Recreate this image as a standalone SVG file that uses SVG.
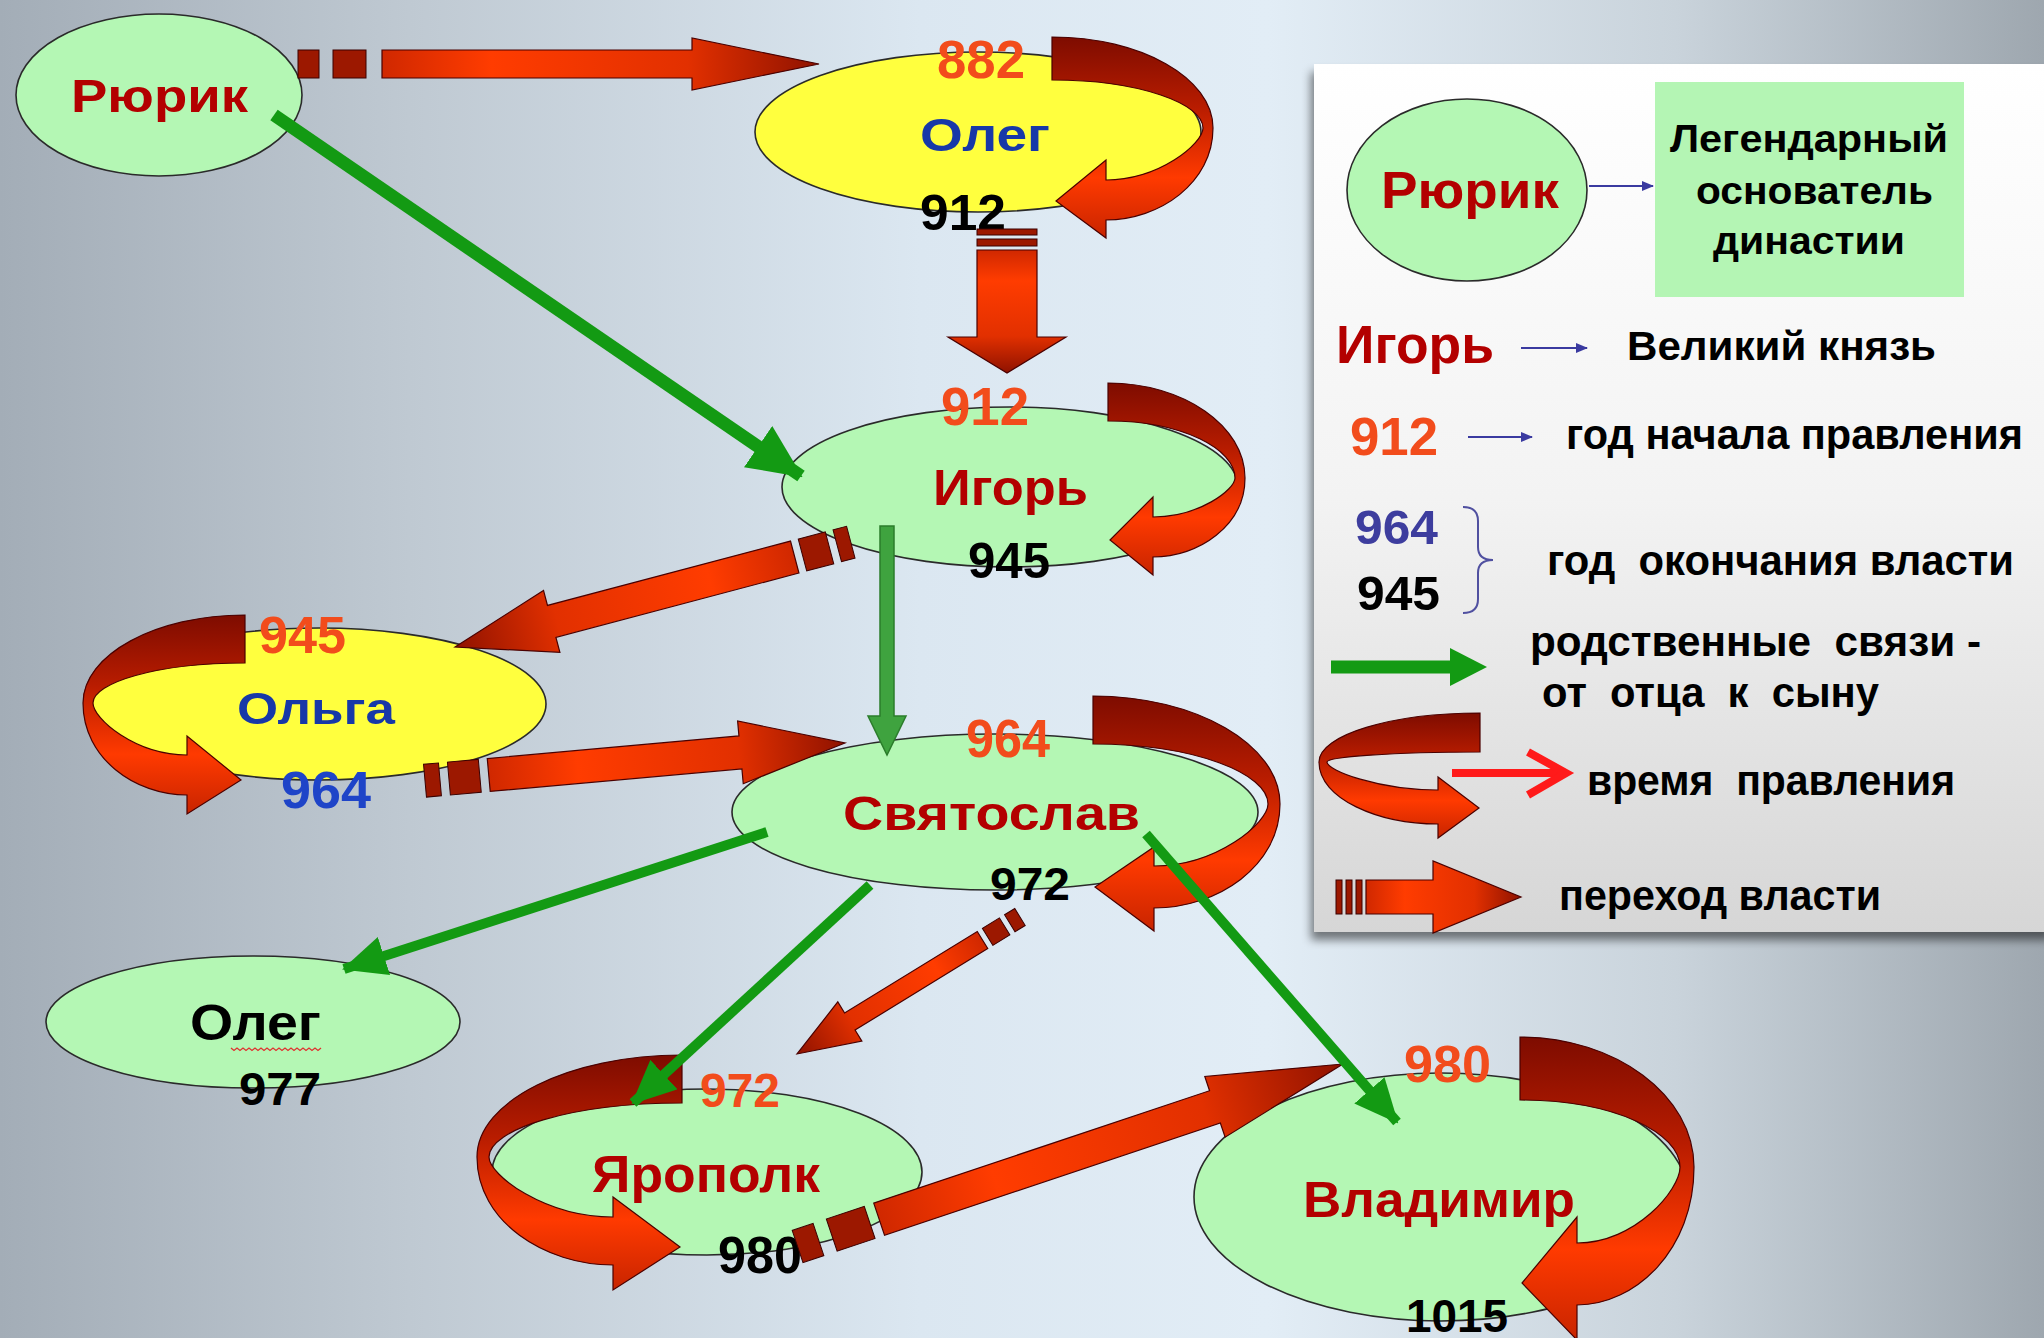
<svg xmlns="http://www.w3.org/2000/svg" width="2044" height="1338" viewBox="0 0 2044 1338">
<defs>
<style>
.t{font-family:"Liberation Sans",Arial,sans-serif;font-weight:bold}
.name{fill:#b30000}
.blue{fill:#1738a8}
.yr{fill:#f24c1c}
.blk{fill:#000}
.eg{fill:#b4f7b4;stroke:#2a2a2a;stroke-width:1.6}
.ey{fill:#ffff3e;stroke:#2a2a2a;stroke-width:1.6}
.band{fill:url(#band);stroke:#4a0000;stroke-width:1.2}
.block{fill:url(#blk);stroke:#4a0000;stroke-width:1.2}
.stripe{fill:#9c1800;stroke:#3a0000;stroke-width:1}
.gl{stroke:#139a13;fill:none}
.lg{fill:#000}
.bl{stroke:#3a3aa0;stroke-width:2;fill:none}
</style>
<linearGradient id="bg" x1="0" y1="0" x2="1" y2="0">
<stop offset="0" stop-color="#a3adb7"/>
<stop offset="0.2" stop-color="#bfc9d2"/>
<stop offset="0.45" stop-color="#dbe7f1"/>
<stop offset="0.62" stop-color="#e2edf6"/>
<stop offset="0.82" stop-color="#c9d3db"/>
<stop offset="1" stop-color="#9ea7af"/>
</linearGradient>
<linearGradient id="band" x1="0" y1="0" x2="0" y2="1">
<stop offset="0" stop-color="#7e0c00"/>
<stop offset="0.35" stop-color="#b81c00"/>
<stop offset="0.7" stop-color="#ff3a00"/>
<stop offset="1" stop-color="#c82400"/>
</linearGradient>
<linearGradient id="blk" x1="0" y1="0" x2="1" y2="0">
<stop offset="0" stop-color="#d02800"/>
<stop offset="0.25" stop-color="#ff3c00"/>
<stop offset="0.7" stop-color="#e23000"/>
<stop offset="1" stop-color="#8f1200"/>
</linearGradient>
<linearGradient id="panel" x1="0" y1="0" x2="0" y2="1">
<stop offset="0" stop-color="#ffffff"/>
<stop offset="0.5" stop-color="#f3f3f3"/>
<stop offset="1" stop-color="#d6d6d6"/>
</linearGradient>
<filter id="shadow" x="-5%" y="-5%" width="110%" height="110%">
<feGaussianBlur in="SourceAlpha" stdDeviation="5"/>
<feOffset dx="-3" dy="8"/>
<feComponentTransfer><feFuncA type="linear" slope="0.5"/></feComponentTransfer>
<feMerge><feMergeNode/><feMergeNode in="SourceGraphic"/></feMerge>
</filter>
<marker id="gL" markerUnits="userSpaceOnUse" markerWidth="54" markerHeight="50" refX="52" refY="25" orient="auto">
<path d="M0,0 L54,25 L0,50 Z" fill="#139a13"/>
</marker>
<marker id="gS" markerUnits="userSpaceOnUse" markerWidth="44" markerHeight="40" refX="42" refY="20" orient="auto">
<path d="M0,0 L44,20 L0,40 Z" fill="#139a13"/>
</marker>
<marker id="bA" markerUnits="userSpaceOnUse" markerWidth="12" markerHeight="10" refX="11" refY="5" orient="auto">
<path d="M0,0 L12,5 L0,10 Z" fill="#3a3aa0"/>
</marker>
</defs>

<rect width="2044" height="1338" fill="url(#bg)"/>

<g id="legend">
<rect x="1314" y="64" width="740" height="868" fill="url(#panel)" filter="url(#shadow)"/>
<ellipse class="eg" cx="1467" cy="190" rx="120" ry="91"/>
<text class="t name" x="1381" y="208" font-size="52" textLength="178" lengthAdjust="spacingAndGlyphs">Рюрик</text>
<line class="bl" x1="1589" y1="186" x2="1653" y2="186" marker-end="url(#bA)"/>
<rect x="1655" y="82" width="309" height="215" fill="#b4f5b4"/>
<text class="t lg" x="1670" y="152" font-size="38" textLength="278" lengthAdjust="spacingAndGlyphs">Легендарный</text>
<text class="t lg" x="1696" y="204" font-size="38" textLength="237" lengthAdjust="spacingAndGlyphs">основатель</text>
<text class="t lg" x="1713" y="254" font-size="38" textLength="192" lengthAdjust="spacingAndGlyphs">династии</text>
<text class="t name" x="1336" y="363" font-size="53" textLength="158" lengthAdjust="spacingAndGlyphs">Игорь</text>
<line class="bl" x1="1521" y1="348" x2="1587" y2="348" marker-end="url(#bA)"/>
<text class="t lg" x="1627" y="360" font-size="40" textLength="309" lengthAdjust="spacingAndGlyphs">Великий князь</text>
<text class="t yr" x="1350" y="455" font-size="53" textLength="88" lengthAdjust="spacingAndGlyphs">912</text>
<line class="bl" x1="1468" y1="437" x2="1532" y2="437" marker-end="url(#bA)"/>
<text class="t lg" x="1566" y="449" font-size="42" textLength="457" lengthAdjust="spacingAndGlyphs">год начала правления</text>
<text class="t" fill="#3d3d9e" x="1355" y="544" font-size="49" textLength="83" lengthAdjust="spacingAndGlyphs">964</text>
<text class="t lg" x="1357" y="610" font-size="49" textLength="83" lengthAdjust="spacingAndGlyphs">945</text>
<path d="M1463,507 Q1478,507 1478,521 L1478,547 Q1478,560 1493,560 Q1478,560 1478,573 L1478,599 Q1478,613 1463,613" stroke="#5050a0" stroke-width="2" fill="none"/>
<text class="t lg" x="1547" y="575" font-size="42" textLength="467" lengthAdjust="spacingAndGlyphs" xml:space="preserve">год  окончания власти</text>
<line x1="1331" y1="667" x2="1452" y2="667" stroke="#139a13" stroke-width="13"/>
<path d="M1450,648 L1487,667 L1450,686 Z" fill="#139a13"/>
<text class="t lg" x="1530" y="656" font-size="42" textLength="451" lengthAdjust="spacingAndGlyphs" xml:space="preserve">родственные  связи -</text>
<text class="t lg" x="1542" y="707" font-size="42" textLength="337" lengthAdjust="spacingAndGlyphs" xml:space="preserve">от  отца  к  сыну</text>
<path class="band" d="M1480,713 C1391.5,713 1319,735 1319,762 C1319,799 1378.5,824 1438,824 L1438,838 L1479,808 L1438,777 L1438,790 C1378.5,790 1327,770.4 1327,762 C1327,757 1391.5,752 1480,752 Z"/>
<line x1="1452" y1="773" x2="1562" y2="773" stroke="#ff1a1a" stroke-width="8"/>
<path d="M1528,752 L1566,773 L1528,795" stroke="#ff1a1a" stroke-width="8" fill="none"/>
<text class="t lg" x="1587" y="795" font-size="42" textLength="368" lengthAdjust="spacingAndGlyphs" xml:space="preserve">время  правления</text>
<g transform="translate(1336,897)">
<rect class="stripe" x="0" y="-17" width="6" height="34"/>
<rect class="stripe" x="10" y="-17" width="6" height="34"/>
<rect class="stripe" x="20" y="-17" width="6" height="34"/>
<path class="block" d="M30,-17 L97,-17 L97,-36 L185,0 L97,36 L97,17 L30,17 Z"/>
</g>
<text class="t lg" x="1559" y="910" font-size="42" textLength="322" lengthAdjust="spacingAndGlyphs">переход власти</text>
</g>

<g id="node-rurik">
<ellipse class="eg" cx="159" cy="95" rx="143" ry="81"/>
<text class="t name" x="71" y="112" font-size="46" textLength="177" lengthAdjust="spacingAndGlyphs">Рюрик</text>
</g>

<g id="node-oleg">
<ellipse class="ey" cx="978" cy="132" rx="223" ry="80"/>
<path class="band" d="M1052,37 C1140.6,37 1213,78 1213,128 C1213,183 1159.5,220 1106,220 L1106,238 L1056,201 L1106,160 L1106,180 C1159.5,180 1203,143.6 1203,128 C1203,104 1140.6,80 1052,80 Z"/>
<text class="t yr" x="937" y="78" font-size="53" textLength="88" lengthAdjust="spacingAndGlyphs">882</text>
<text class="t blue" x="920" y="151" font-size="47" textLength="130" lengthAdjust="spacingAndGlyphs">Олег</text>
<text class="t blk" x="920" y="230" font-size="50" textLength="86" lengthAdjust="spacingAndGlyphs">912</text>
</g>

<g id="node-igor">
<ellipse class="eg" cx="1010" cy="487" rx="228" ry="80"/>
<path class="band" d="M1108,383 C1183.4,383 1245,425.8 1245,478 C1245,525.4 1199,557 1153,557 L1153,575 L1110,540 L1153,497 L1153,517 C1199,517 1235,489.7 1235,478 C1235,449.5 1183.4,421 1108,421 Z"/>
<text class="t yr" x="941" y="425" font-size="53" textLength="88" lengthAdjust="spacingAndGlyphs">912</text>
<text class="t name" x="933" y="505" font-size="50" textLength="155" lengthAdjust="spacingAndGlyphs">Игорь</text>
<text class="t blk" x="968" y="578" font-size="50" textLength="82" lengthAdjust="spacingAndGlyphs">945</text>
</g>

<g id="node-olga">
<ellipse class="ey" cx="319" cy="704" rx="227" ry="76"/>
<path class="band" d="M245,615 C155.9,615 83,654.6 83,703 C83,758.2 135,795 187,795 L187,814 L241,780 L187,736 L187,755 C135,755 93,718.6 93,703 C93,683 155.9,663 245,663 Z"/>
<text class="t yr" x="259" y="653" font-size="52" textLength="87" lengthAdjust="spacingAndGlyphs">945</text>
<text class="t blue" x="237" y="724" font-size="45" textLength="158" lengthAdjust="spacingAndGlyphs">Ольга</text>
<text class="t" fill="#1e44c8" x="281" y="808" font-size="52" textLength="90" lengthAdjust="spacingAndGlyphs">964</text>
</g>

<g id="node-svyatoslav">
<ellipse class="eg" cx="995" cy="812" rx="263" ry="78"/>
<path class="band" d="M1093,696 C1195.9,696 1280,744.6 1280,804 C1280,866.4 1217,908 1154,908 L1154,931 L1095,887 L1154,847 L1154,866 C1217,866 1268,822.6 1268,804 C1268,774 1195.9,744 1093,744 Z"/>
<text class="t yr" x="966" y="757" font-size="54" textLength="84" lengthAdjust="spacingAndGlyphs">964</text>
<text class="t name" x="843" y="830" font-size="48" textLength="297" lengthAdjust="spacingAndGlyphs">Святослав</text>
<text class="t blk" x="990" y="900" font-size="46" textLength="80" lengthAdjust="spacingAndGlyphs">972</text>
</g>

<g id="node-oleg2">
<ellipse class="eg" cx="253" cy="1022" rx="207" ry="66"/>
<text class="t blk" x="190" y="1040" font-size="50" textLength="131" lengthAdjust="spacingAndGlyphs">Олег</text>
<path d="M231,1048 l3,2.5 l3,-2.5 l3,2.5 l3,-2.5 l3,2.5 l3,-2.5 l3,2.5 l3,-2.5 l3,2.5 l3,-2.5 l3,2.5 l3,-2.5 l3,2.5 l3,-2.5 l3,2.5 l3,-2.5 l3,2.5 l3,-2.5 l3,2.5 l3,-2.5 l3,2.5 l3,-2.5 l3,2.5 l3,-2.5 l3,2.5 l3,-2.5 l3,2.5 l3,-2.5 l3,2.5 l3,-2.5" stroke="#e03030" stroke-width="1.3" fill="none"/>
<text class="t blk" x="239" y="1105" font-size="46" textLength="82" lengthAdjust="spacingAndGlyphs">977</text>
</g>

<g id="node-yaropolk">
<ellipse class="eg" cx="707" cy="1172" rx="215" ry="83"/>
<path class="band" d="M682,1055 C569.25,1055 477,1100.9 477,1157 C477,1221.8 545,1265 613,1265 L613,1290 L680,1247 L613,1197 L613,1217 C545,1217 489,1175 489,1157 C489,1130 569.25,1103 682,1103 Z"/>
<text class="t yr" x="700" y="1107" font-size="48" textLength="80" lengthAdjust="spacingAndGlyphs">972</text>
<text class="t name" x="592" y="1192" font-size="52" textLength="228" lengthAdjust="spacingAndGlyphs">Ярополк</text>
<text class="t blk" x="718" y="1273" font-size="52" textLength="84" lengthAdjust="spacingAndGlyphs">980</text>
</g>

<g id="node-vladimir">
<ellipse class="eg" cx="1441" cy="1197" rx="247" ry="124"/>
<path class="band" d="M1520,1037 C1615.7,1037 1694,1095.5 1694,1167 C1694,1249.8 1635.5,1305 1577,1305 L1577,1340 L1522,1283 L1577,1217 L1577,1243 C1635.5,1243 1680,1189.8 1680,1167 C1680,1133.5 1615.7,1100 1520,1100 Z"/>
<text class="t yr" x="1404" y="1082" font-size="52" textLength="87" lengthAdjust="spacingAndGlyphs">980</text>
<text class="t name" x="1303" y="1217" font-size="50" textLength="272" lengthAdjust="spacingAndGlyphs">Владимир</text>
<text class="t blk" x="1406" y="1332" font-size="46" textLength="102" lengthAdjust="spacingAndGlyphs">1015</text>
</g>

<g id="connectors">
<!-- transfer of power (red block arrows) -->
<g transform="translate(298,64)">
<rect class="stripe" x="0" y="-14" width="21" height="28"/>
<rect class="stripe" x="35" y="-14" width="33" height="28"/>
<path class="block" d="M84,-14 L394,-14 L394,-26 L521,0 L394,26 L394,14 L84,14 Z"/>
</g>
<g transform="translate(1007,229) rotate(90)">
<rect class="stripe" x="0" y="-30" width="6" height="60"/>
<rect class="stripe" x="10" y="-30" width="7" height="60"/>
<path class="block" d="M21,-30 L108,-30 L108,-59 L144,0 L108,59 L108,30 L21,30 Z"/>
</g>
<g transform="translate(850.8,542.2) rotate(165.17)">
<rect class="stripe" x="0" y="-16.5" width="14" height="33"/>
<rect class="stripe" x="22" y="-16.5" width="28" height="33"/>
<path class="block" d="M58,-16.5 L309.4,-16.5 L309.4,-32 L409.4,0 L309.4,32 L309.4,16.5 L58,16.5 Z"/>
</g>
<g transform="translate(425,780.7) rotate(-5.13)">
<rect class="stripe" x="0" y="-16.5" width="15" height="33"/>
<rect class="stripe" x="24" y="-16.5" width="31" height="33"/>
<path class="block" d="M64,-16.5 L316.7,-16.5 L316.7,-31.5 L421.7,0 L316.7,31.5 L316.7,16.5 L64,16.5 Z"/>
</g>
<g transform="translate(1020,917) rotate(148.44)">
<rect class="stripe" x="0" y="-10" width="12" height="20"/>
<rect class="stripe" x="18" y="-10" width="20" height="20"/>
<path class="block" d="M44,-10 L199.7,-10 L199.7,-23 L261.7,0 L199.7,23 L199.7,10 L44,10 Z"/>
</g>
<g transform="translate(797.6,1246.5) rotate(-18.5)">
<rect class="stripe" x="0" y="-17" width="22" height="34"/>
<rect class="stripe" x="36" y="-17" width="40" height="34"/>
<path class="block" d="M86,-17 L440.1,-17 L440.1,-32 L575.1,0 L440.1,32 L440.1,17 L86,17 Z"/>
</g>
<!-- kinship (green arrows) -->
<line class="gl" x1="274" y1="115" x2="801" y2="476" stroke-width="13" marker-end="url(#gL)"/>
<path d="M880,526 L894,526 L894,716 L906,716 L887,755 L868,716 L880,716 Z" fill="#3fa33f" stroke="#2b7d2b" stroke-width="1.5"/>
<line class="gl" x1="767" y1="832" x2="344" y2="969" stroke-width="10" marker-end="url(#gS)"/>
<line class="gl" x1="870" y1="885" x2="633" y2="1103" stroke-width="10" marker-end="url(#gS)"/>
<line class="gl" x1="1146" y1="834" x2="1397" y2="1122" stroke-width="10" marker-end="url(#gS)"/>
</g>
</svg>
